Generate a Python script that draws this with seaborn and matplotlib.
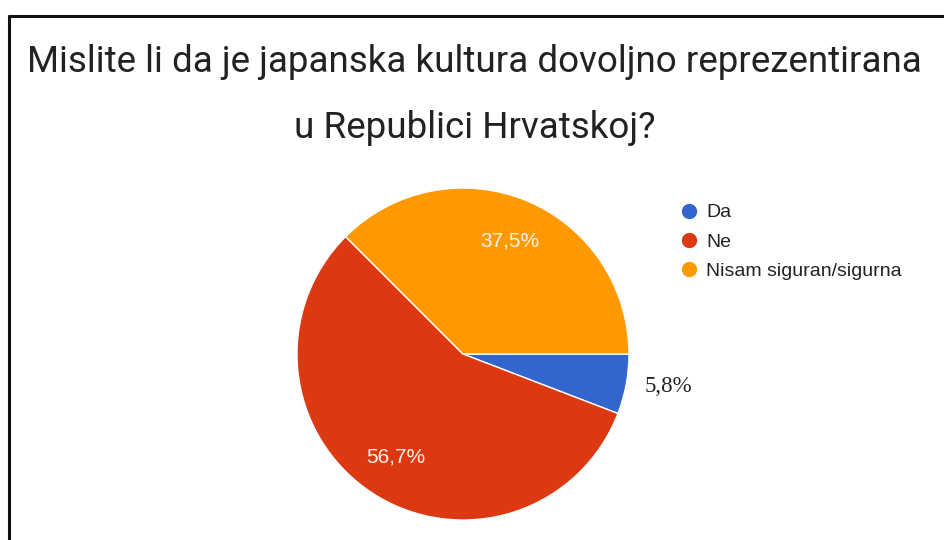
import matplotlib
matplotlib.use("Agg")
import matplotlib.pyplot as plt
from matplotlib.lines import Line2D
import numpy as np
import seaborn as sb

# survey answers (count of respondents)
answers = ["Da", "Ne", "Nisam siguran/sigurna"]
counts = [7, 68, 45]
colors = ["#3366cc", "#dc3912", "#ff9900"]
title = "Mislite li da je japanska kultura dovoljno reprezentirana\nu Republici Hrvatskoj?"

sb.set_theme(style="white")
plt.rcParams["font.family"] = ["Liberation Sans", "DejaVu Sans"]

fig = plt.figure(figsize=(9.44, 5.4), dpi=100)
ax = fig.add_axes([0.3146, 0.037, 0.3517, 0.6148])


def pct_label(p):
    return f"{p:.1f}".replace(".", ",") + "%"


wedges, texts, autotexts = ax.pie(
    counts, colors=colors, startangle=0, counterclock=False,
    autopct=pct_label, pctdistance=0.74,
    wedgeprops=dict(edgecolor="white", linewidth=1),
    textprops=dict(color="#fff3e6", fontsize=15),
)
ax.set_xlim(-1, 1)
ax.set_ylim(-1, 1)
ax.set_aspect("equal")

# small slice gets its label outside, in a serif face
w = wedges[0]
mid = np.deg2rad((w.theta1 + w.theta2) / 2 + 1.5)
autotexts[0].set_position((1.25 * np.cos(mid), 1.25 * np.sin(mid)))
autotexts[0].set_color("#222222")
autotexts[0].set_fontfamily(["Liberation Serif", "DejaVu Serif"])
autotexts[0].set_fontsize(16.5)

handles = [Line2D([], [], marker="o", linestyle="", markersize=10,
                  markerfacecolor=c, markeredgecolor=c) for c in colors]
fig.legend(handles, answers, loc="upper left", bbox_to_anchor=(0.701, 0.655),
           frameon=False, fontsize=14, handletextpad=0.4, labelspacing=0.6,
           handlelength=1.0, labelcolor="#222222")

fig.text(0.503, 0.918, title, ha="center", va="top", fontsize=26.5,
         family=["Roboto", "DejaVu Sans"], color="#222222", linespacing=2.05)

# frame of the screenshot
fig.add_artist(Line2D([8.5 / 944, 8.5 / 944], [0, 1 - 15.5 / 540], color="#111111", lw=2.2))
fig.add_artist(Line2D([8.5 / 944, 1], [1 - 15.5 / 540, 1 - 15.5 / 540], color="#111111", lw=2.2))

fig.savefig("out.png", dpi=100)
